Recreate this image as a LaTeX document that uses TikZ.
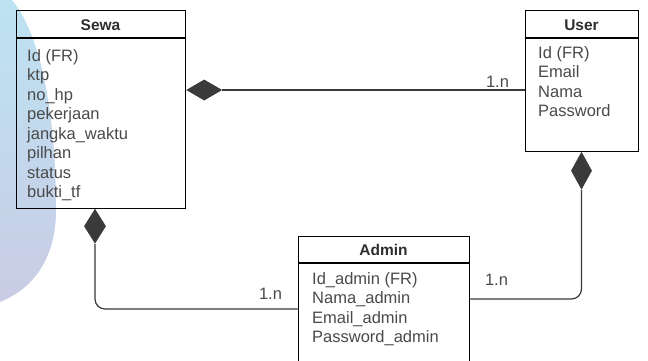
\documentclass[tikz,border=0pt]{standalone}
\usepackage{fontspec}
\setmainfont{Liberation Sans}
\usetikzlibrary{shapes.geometric}
\definecolor{wmtop}{HTML}{BDE3F3}
\definecolor{wmbot}{HTML}{C9CCE5}
\definecolor{txt}{HTML}{4A4A4A}
\definecolor{ttl}{HTML}{2E2E2E}
\definecolor{lnc}{HTML}{3A3A3A}
\tikzset{
  entity/.style={draw=black, line width=1.2pt, anchor=north west, inner sep=0pt},
  sepline/.style={draw=black, line width=1.2pt},
  attr/.style={anchor=base west, inner sep=0pt, text=txt, font=\fontsize{16.5}{20}\selectfont},
  ttltext/.style={anchor=base, inner sep=0pt, text=ttl, font=\fontsize{15.5}{19}\selectfont\bfseries},
  dia/.style={shape=diamond, fill=lnc, draw=none, inner sep=0pt},
  conn/.style={draw=lnc, line width=1.2pt},
  lbl/.style={anchor=base, inner sep=0pt, text=txt, font=\fontsize{16.5}{20}\selectfont}
}
\begin{document}
\begin{tikzpicture}[x=1pt,y=-1pt]
\clip (0,0) rectangle (648,360);
\fill[white] (0,0) rectangle (648,360);
% watermark
\shade[top color=wmtop, bottom color=wmbot] (0,0) -- (12,0) .. controls (45,40) and (56,130) .. (56,210) .. controls (56,262) and (30,290) .. (0,302) -- cycle;

% entities
\node[entity, minimum width=169pt, minimum height=198pt] (sewa) at (16,10) {};
\draw[sepline] (16,38) -- (185,38);
\node[ttltext] (sewat) at (100.5,30.5) {Sewa};
\node[attr] (s1) at (27,61) {Id (FR)};
\node[attr] (s2) at (27,80.5) {ktp};
\node[attr] (s3) at (27,100) {no\_hp};
\node[attr] (s4) at (27,119.5) {pekerjaan};
\node[attr] (s5) at (27,139) {jangka\_waktu};
\node[attr] (s6) at (27,158.5) {pilhan};
\node[attr] (s7) at (27,178) {status};
\node[attr] (s8) at (27,197.5) {bukti\_tf};

\node[entity, minimum width=113pt, minimum height=141pt] (user) at (525,10) {};
\draw[sepline] (525,38) -- (638,38);
\node[ttltext] (usert) at (581.5,30.5) {User};
\node[attr] (u1) at (538,58) {Id (FR)};
\node[attr] (u2) at (538,77.5) {Email};
\node[attr] (u3) at (538,97) {Nama};
\node[attr] (u4) at (538,116.5) {Password};

\node[entity, minimum width=171pt, minimum height=150pt] (admin) at (298,236) {};
\draw[sepline] (298,263) -- (469,263);
\node[ttltext] (admint) at (383.5,255.5) {Admin};
\node[attr] (a1) at (312,284) {Id\_admin (FR)};
\node[attr] (a2) at (312,303.5) {Nama\_admin};
\node[attr] (a3) at (312,323) {Email\_admin};
\node[attr] (a4) at (312,342.5) {Password\_admin};

% diamonds
\node[dia, minimum width=36pt, minimum height=21pt, anchor=west] (d1) at (186,90) {};
\node[dia, minimum width=22pt, minimum height=35pt, anchor=north] (d2) at (95,208.5) {};
\node[dia, minimum width=21pt, minimum height=38pt, anchor=north] (d3) at (581.5,151.5) {};

% connectors
\draw[conn] (d1.east) -- (user.west |- d1.east);
\draw[conn, rounded corners=10pt] (d2.south) |- (admin.west |- 0,309);
\draw[conn, rounded corners=10pt] (d3.south) |- (admin.east |- 0,299);

% labels
\node[lbl] (l1) at (497.5,87.5) {1.n};
\node[lbl] (l2) at (270.5,299) {1.n};
\node[lbl] (l3) at (496.5,285) {1.n};
\end{tikzpicture}
\end{document}
